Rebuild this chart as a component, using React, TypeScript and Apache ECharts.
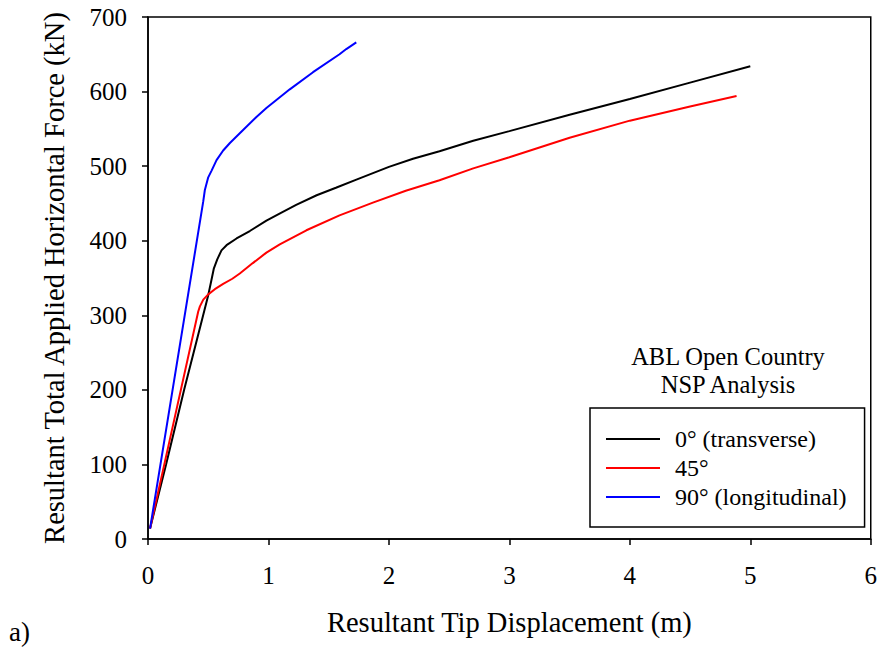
import React, { useEffect, useRef } from "react";
import * as echarts from "echarts";

const seriesNames = ["0° (transverse)", "45°", "90° (longitudinal)"];
const seriesColors = ["#000000", "#ff0000", "#0000ff"];

const x0 = [0.017, 0.15, 0.3, 0.45, 0.5, 0.525, 0.547, 0.575, 0.61, 0.652, 0.735, 0.845, 0.983, 1.1, 1.23, 1.4, 1.56, 1.73, 2.0, 2.2, 2.42, 2.7, 3.0, 3.5, 4.0, 4.5, 5.0];
const y0 = [14, 100, 200, 295, 327, 346, 363, 375, 387, 394, 403, 413, 427, 437, 448, 461, 471, 482, 499, 510, 520, 534, 547, 569, 590, 612, 634];

const x45 = [0.017, 0.2, 0.417, 0.431, 0.459, 0.5, 0.555, 0.624, 0.7, 0.762, 0.87, 0.983, 1.094, 1.315, 1.59, 1.867, 2.14, 2.42, 2.7, 3.0, 3.5, 4.0, 4.5, 4.886];
const y45 = [14, 147, 305, 312, 321, 328, 335, 342, 349, 356, 370, 384, 395, 414, 434, 451, 467, 481, 497, 512, 538, 561, 580, 594];

const x90 = [0.017, 0.2, 0.459, 0.472, 0.5, 0.528, 0.569, 0.624, 0.68, 0.762, 0.9, 0.983, 1.177, 1.37, 1.59, 1.646, 1.729];
const y90 = [14, 196, 453, 468, 485, 494, 508, 521, 531, 544, 566, 578, 603, 626, 650, 657, 666];

const xTicks = [0, 1, 2, 3, 4, 5, 6];
const yTicks = [0, 100, 200, 300, 400, 500, 600, 700];

const FONT = "'Liberation Serif', 'Times New Roman', serif";

export default function App() {
  const ref = useRef<HTMLDivElement>(null);
  useEffect(() => {
    document.body.style.margin = "0";
    const chart = echarts.init(ref.current!, undefined, { renderer: "svg" });
    const pairs = [
      [x0, y0],
      [x45, y45],
      [x90, y90],
    ];
    chart.setOption({
      animation: false,
      backgroundColor: "#ffffff",
      textStyle: { fontFamily: FONT },
      title: [
        {
          text: "ABL Open Country\nNSP Analysis",
          left: 723,
          top: 337,
          textAlign: "center",
          textStyle: { fontFamily: FONT, fontSize: 24.5, fontWeight: "normal", color: "#000", lineHeight: 28, align: "center" },
        },
        {
          text: "a)",
          left: 9,
          top: 617,
          padding: 0,
          textStyle: { fontFamily: FONT, fontSize: 27, fontWeight: "normal", color: "#000", lineHeight: 30 },
        },
      ],
      legend: {
        orient: "vertical",
        left: 590,
        top: 408,
        padding: [19, 18, 18, 16],
        itemGap: 5,
        itemWidth: 54,
        itemHeight: 2,
        icon: "rect",
        borderColor: "#000",
        borderWidth: 1.5,
        backgroundColor: "#fff",
        textStyle: { fontFamily: FONT, fontSize: 24, color: "#000", lineHeight: 24, padding: [0, 0, 0, 10] },
        data: seriesNames,
      },
      grid: { left: 148, right: 8, top: 17, bottom: 108, show: true, borderColor: "#000", borderWidth: 1.5, backgroundColor: "transparent" },
      xAxis: {
        type: "value",
        min: xTicks[0],
        max: xTicks[xTicks.length - 1],
        interval: 1,
        name: "Resultant Tip Displacement (m)",
        nameLocation: "middle",
        nameGap: 69,
        nameTextStyle: { fontFamily: FONT, fontSize: 28.5, color: "#000" },
        axisLine: { show: true, lineStyle: { color: "#000", width: 1.5 } },
        axisTick: { show: true, inside: false, length: 6, lineStyle: { color: "#000", width: 1.5 } },
        axisLabel: { fontFamily: FONT, fontSize: 25, color: "#000", margin: 24 },
        splitLine: { show: false },
      },
      yAxis: {
        type: "value",
        min: yTicks[0],
        max: yTicks[yTicks.length - 1],
        interval: 100,
        name: "Resultant Total Applied Horizontal Force (kN)",
        nameLocation: "middle",
        nameGap: 79,
        nameTextStyle: { fontFamily: FONT, fontSize: 28.5, color: "#000" },
        axisLine: { show: true, lineStyle: { color: "#000", width: 1.5 } },
        axisTick: { show: true, inside: false, length: 6, lineStyle: { color: "#000", width: 1.5 } },
        axisLabel: { fontFamily: FONT, fontSize: 25, color: "#000", margin: 21 },
        splitLine: { show: false },
      },
      series: pairs.map((p, i) => ({
        name: seriesNames[i],
        type: "line",
        data: p[0].map((x, j) => [x, p[1][j]]),
        showSymbol: false,
        symbol: "none",
        smooth: false,
        color: seriesColors[i],
        lineStyle: { color: seriesColors[i], width: 2 },
      })),
    });
    return () => chart.dispose();
  }, []);
  return <div ref={ref} style={{ width: 880, height: 647 }} />;
}
